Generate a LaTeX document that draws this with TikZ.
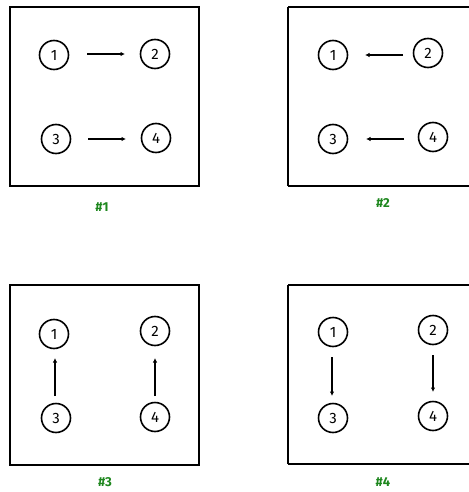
\documentclass[tikz,border=0pt]{standalone}
\usepackage{fontspec}
\setmainfont{Fira Sans}
\usetikzlibrary{arrows.meta}
\definecolor{labgreen}{RGB}{30,135,30}
\tikzset{
  frame/.style={draw, line width=1.8pt},
  ball/.style={draw, circle, line width=1.6pt, minimum size=29pt, inner sep=0pt, font=\fontsize{15}{15}\selectfont},
  link/.style={line width=1.3pt, -{Latex[length=4.5pt,width=4.5pt]}},
  tag/.style={text=labgreen, font=\fontsize{13}{13}\selectfont\bfseries}
}
\begin{document}
\begin{tikzpicture}[x=1pt,y=-1pt]
\useasboundingbox (0,0) rectangle (468,492);
% panel 1
\draw[frame] (10,7) rectangle (199,186);
\node[ball] (a1) at (54,55) {1};
\node[ball] (a2) at (155,54) {2};
\node[ball] (a3) at (56,139) {3};
\node[ball] (a4) at (156,138) {4};
\coordinate (a1s) at (87,54); \coordinate (a1e) at (125,54);
\coordinate (a3s) at (88,139); \coordinate (a3e) at (126,139);
\draw[link] (a1s) -- (a1e);
\draw[link] (a3s) -- (a3e);
\node[tag] (t1) at (102,207) {\#1};
% panel 2
\draw[frame] (288,7) -- (470,7);
\draw[frame] (288,186) -- (470,186);
\draw[frame] (288,7) -- (288,186);
\node[ball] (b1) at (333,55) {1};
\node[ball] (b2) at (428,53) {2};
\node[ball] (b3) at (333,139) {3};
\node[ball] (b4) at (433,137) {4};
\coordinate (b2s) at (403,55); \coordinate (b2e) at (365,55);
\coordinate (b4s) at (404,139); \coordinate (b4e) at (366,139);
\draw[link] (b2s) -- (b2e);
\draw[link] (b4s) -- (b4e);
\node[tag] (t2) at (383,203) {\#2};
% panel 3
\draw[frame] (10,285) rectangle (199,465);
\node[ball] (c1) at (54,334) {1};
\node[ball] (c2) at (155,331) {2};
\node[ball] (c3) at (56,418) {3};
\node[ball] (c4) at (155,417) {4};
\coordinate (c3s) at (55,396); \coordinate (c3e) at (55,358);
\coordinate (c4s) at (155,396); \coordinate (c4e) at (155,358);
\draw[link] (c3s) -- (c3e);
\draw[link] (c4s) -- (c4e);
\node[tag] (t3) at (105,482) {\#3};
% panel 4
\draw[frame] (288,285) -- (470,285);
\draw[frame] (288,464) -- (470,464);
\draw[frame] (288,285) -- (288,464);
\node[ball] (d1) at (333,332) {1};
\node[ball] (d2) at (433,330) {2};
\node[ball] (d3) at (333,418) {3};
\node[ball] (d4) at (433,416) {4};
\coordinate (d1s) at (332,357); \coordinate (d1e) at (332,396);
\coordinate (d2s) at (433,355); \coordinate (d2e) at (433,392);
\draw[link] (d1s) -- (d1e);
\draw[link] (d2s) -- (d2e);
\node[tag] (t4) at (383,482) {\#4};
\end{tikzpicture}
\end{document}
